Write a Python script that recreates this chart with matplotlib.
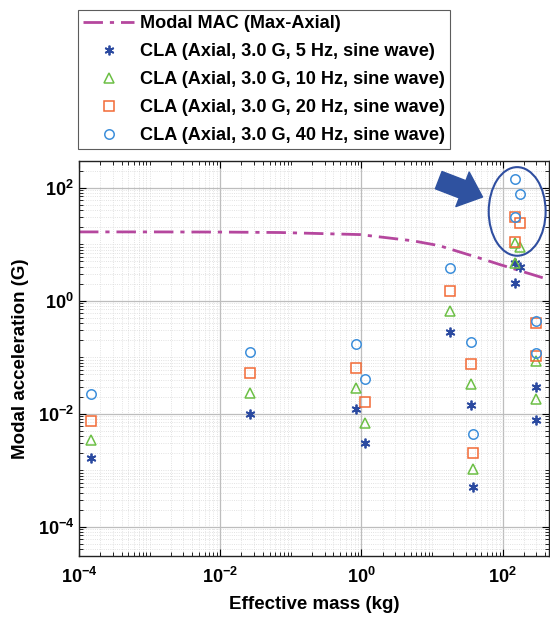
import matplotlib
matplotlib.use("Agg")
import matplotlib.pyplot as plt
from matplotlib.patches import Ellipse
from matplotlib.ticker import LogLocator, NullFormatter

plt.rcParams["font.family"] = ["Liberation Sans", "DejaVu Sans"]
plt.rcParams["font.weight"] = "bold"
plt.rcParams["mathtext.fontset"] = "custom"
plt.rcParams["mathtext.rm"] = "Liberation Sans:bold"
plt.rcParams["mathtext.bf"] = "Liberation Sans:bold"

# Modal MAC curve
mac_mass = [1e-4, 1e-3, 1e-2, 0.07, 0.95, 5.3, 12.7, 24.4, 46.6, 89.0, 455.0]
mac_acc = [16.5, 16.5, 16.4, 16.1, 14.8, 11.5, 9.4, 7.3, 5.7, 4.4, 2.35]

# CLA points (mass in kg, acceleration in G)
cla_mass = [1.5e-4, 0.026, 0.83, 1.11, 17.8, 36.0, 38.0, 151.0, 151.0, 175.0, 292.0, 292.0]
acc_5hz = [0.00167, 0.0099, 0.012, 0.003, 0.28, 0.014, 0.0005, 4.6, 2.05, 3.9, 0.030, 0.0079]
acc_10hz = [0.0034, 0.023, 0.028, 0.0069, 0.65, 0.033, 0.00104, 10.7, 4.6, 9.1, 0.085, 0.018]
acc_20hz = [0.0074, 0.052, 0.064, 0.0159, 1.5, 0.075, 0.0020, 30.8, 11.0, 24.0, 0.40, 0.107]
acc_40hz = [0.022, 0.126, 0.17, 0.042, 3.78, 0.187, 0.0044, 141.0, 30.5, 77.0, 0.44, 0.12]

labels = [
    "Modal MAC (Max-Axial)",
    "CLA (Axial, 3.0 G, 5 Hz, sine wave)",
    "CLA (Axial, 3.0 G, 10 Hz, sine wave)",
    "CLA (Axial, 3.0 G, 20 Hz, sine wave)",
    "CLA (Axial, 3.0 G, 40 Hz, sine wave)",
]

x_ticks = [1e-4, 1e-2, 1e0, 1e2]
x_tick_exp = ["-4", "-2", "0", "2"]
y_ticks = [1e-4, 1e-2, 1e0, 1e2]
y_tick_exp = ["-4", "-2", "0", "2"]

# annotation anchors (data coords)
circle_center = (160, 38)
arrow_tail = (12.4, 136)
arrow_tip = (51.7, 68.4)

fig = plt.figure(figsize=(5.5, 6.17), dpi=100)
ax = fig.add_axes([0.1436, 0.0984, 0.855, 0.6411])

line, = ax.plot(mac_mass, mac_acc, color="#b5479e", lw=2.0, ls=(0, (7, 2.5, 1.5, 2.5)))
h5, = ax.plot(cla_mass, acc_5hz, ls="none", marker=(6, 2, 0), ms=7, color="#2b4aa0",
              markeredgewidth=1.3)
h10, = ax.plot(cla_mass, acc_10hz, ls="none", marker="^", ms=7.5, mfc="none",
               mec="#6cbf45", mew=1.1)
h20, = ax.plot(cla_mass, acc_20hz, ls="none", marker="s", ms=6.5, mfc="none",
               mec="#f26a35", mew=1.1)
h40, = ax.plot(cla_mass, acc_40hz, ls="none", marker="o", ms=6.8, mfc="none",
               mec="#3d8fdb", mew=1.1)

ax.set_xscale("log")
ax.set_yscale("log")
ax.set_xlim(1e-4, 455)
ax.set_ylim(3e-5, 300)

ax.set_xticks(x_ticks)
ax.set_xticklabels([r"$10^{%s}$" % e for e in x_tick_exp])
ax.set_yticks(y_ticks)
ax.set_yticklabels([r"$10^{%s}$" % e for e in y_tick_exp])
ax.xaxis.set_minor_locator(LogLocator(base=10, subs=range(1, 10), numticks=50))
ax.yaxis.set_minor_locator(LogLocator(base=10, subs=range(1, 10), numticks=50))
ax.xaxis.set_minor_formatter(NullFormatter())
ax.yaxis.set_minor_formatter(NullFormatter())
ax.tick_params(which="both", direction="in", top=True, right=True, labelsize=13)
ax.tick_params(which="major", length=5, width=0.8)
ax.tick_params(which="minor", length=3, width=0.6)
ax.tick_params(axis="x", pad=8)

ax.grid(True, which="major", color="#bdbdbd", lw=0.9)
ax.grid(True, which="minor", color="#d9d9d9", lw=0.6, ls=":")
ax.set_axisbelow(True)
for sp in ax.spines.values():
    sp.set_linewidth(1.0)
    sp.set_color("#222222")

ax.set_xlabel("Effective mass (kg)", fontsize=13.5, fontweight="bold", labelpad=6)
ax.set_ylabel("Modal acceleration (G)", fontsize=13.5, fontweight="bold", labelpad=6)

# highlight ellipse and arrow
to_axes = ax.transData + ax.transAxes.inverted()
cx, cy = to_axes.transform(circle_center)
ax.add_patch(Ellipse((cx, cy), 0.121, 0.224, transform=ax.transAxes, fill=False,
                     edgecolor="#2f4ea0", lw=1.5, clip_on=False))
ax.annotate("", xy=arrow_tip, xytext=arrow_tail,
            arrowprops=dict(arrowstyle="simple,tail_width=0.95,head_width=1.9,head_length=1.1",
                            color="#2f52a0", mutation_scale=14, shrinkA=0, shrinkB=0))

leg = fig.legend([line, h5, h10, h20, h40], labels, loc="upper left",
                 bbox_to_anchor=(0.1418, 0.984), frameon=True,
                 fancybox=False, edgecolor="#333333", handlelength=2.8,
                 labelspacing=0.6, borderpad=0.3, handletextpad=0.3,
                 borderaxespad=0.0, prop={"weight": "bold", "size": 13.1})
leg.get_frame().set_linewidth(0.8)

fig.savefig("out.png", dpi=100)
